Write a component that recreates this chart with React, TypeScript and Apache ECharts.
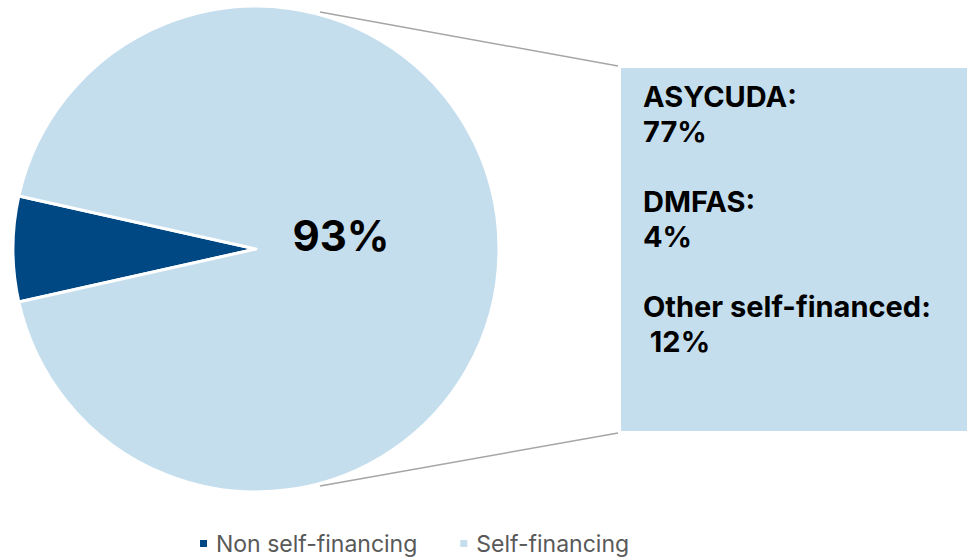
import React, { useEffect, useRef } from "react";
import * as echarts from "echarts";

const categories = ["Non self-financing", "Self-financing"];
const values = [7, 93];
const colors = ["#004884", "#C5DEED"];
const breakdownLabels = ["ASYCUDA:", "DMFAS:", "Other self-financed:"];
const breakdownValues = ["77%", "4%", " 12%"];

export default function App() {
  const ref = useRef<HTMLDivElement>(null);
  useEffect(() => {
    document.body.style.margin = "0";
    const chart = echarts.init(ref.current!, undefined, { renderer: "svg" });
    const font = "Inter, 'Noto Sans', sans-serif";
    const boxText = breakdownLabels
      .map((l, i) => `${l}\n${breakdownValues[i]}`)
      .join("\n\n");
    chart.setOption({
      animation: false,
      color: colors,
      legend: {
        data: categories,
        left: 193,
        top: 527,
        icon: "rect",
        itemWidth: 9,
        itemHeight: 9,
        itemGap: 41,
        textStyle: { fontSize: 23, color: "#595959", fontFamily: font, padding: [0, 0, 0, 3] },
      },
      series: [
        {
          type: "pie",
          center: [256, 249],
          radius: 243,
          startAngle: 192.6,
          clockwise: true,
          label: { show: false },
          labelLine: { show: false },
          itemStyle: { borderColor: "#ffffff", borderWidth: 3 },
          emphasis: { disabled: true },
          data: categories.map((c, i) => ({ name: c, value: values[i] })),
        },
      ],
      graphic: [
        {
          type: "line",
          z: 100,
          shape: { x1: 320, y1: 12, x2: 618, y2: 66 },
          style: { stroke: "#A6A6A6", lineWidth: 1.5 },
        },
        {
          type: "line",
          z: 100,
          shape: { x1: 320, y1: 486, x2: 618, y2: 433 },
          style: { stroke: "#A6A6A6", lineWidth: 1.5 },
        },
        {
          type: "rect",
          z: 100,
          shape: { x: 621, y: 68, width: 346, height: 363 },
          style: { fill: "#C5DEED" },
        },
        {
          type: "text",
          z: 101,
          x: 643,
          y: 79,
          style: {
            text: boxText,
            font: `bold 29px ${font}`,
            lineHeight: 35,
            fill: "#000000",
          },
        },
        {
          type: "text",
          z: 101,
          x: 341,
          y: 235,
          style: {
            text: `${values[1]}%`,
            font: `bold 42px ${font}`,
            fill: "#000000",
            align: "center",
            verticalAlign: "middle",
          },
        },
      ],
    });
    return () => chart.dispose();
  }, []);
  return <div ref={ref} style={{ width: 967, height: 558 }} />;
}
